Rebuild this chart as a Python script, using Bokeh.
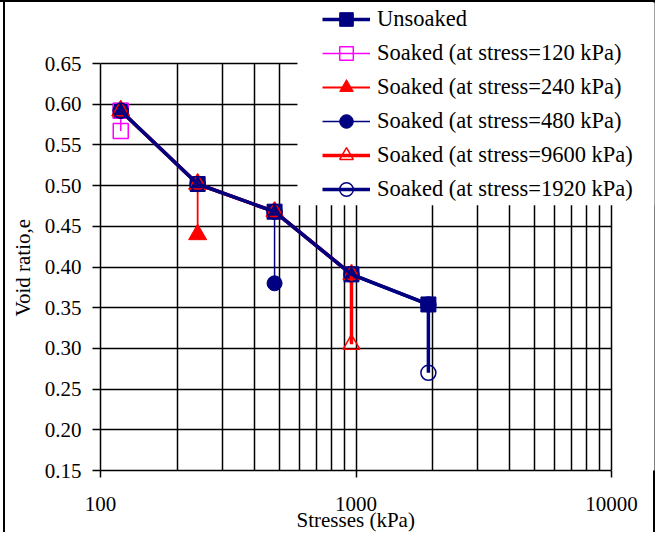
from bokeh.plotting import figure
from bokeh.models import (Range1d, FixedTicker, Legend, LegendItem,
                          BoxAnnotation, Title)
from bokeh.embed import file_html
from bokeh.resources import INLINE

FONT = "Liberation Serif"

# ---- data ----
x_ticks = [100, 1000, 10000]
x_tick_labels = ["100", "1000", "10000"]
x_minor_ticks = [200, 300, 400, 500, 600, 700, 800, 900,
                 2000, 3000, 4000, 5000, 6000, 7000, 8000, 9000]
y_ticks = [0.15, 0.20, 0.25, 0.30, 0.35, 0.40, 0.45, 0.50, 0.55, 0.60, 0.65]
y_tick_labels = ["0.15", "0.20", "0.25", "0.30", "0.35", "0.40", "0.45",
                 "0.50", "0.55", "0.60", "0.65"]

unsoaked_x = [120, 240, 480, 960, 1920]
unsoaked_e = [0.592, 0.502, 0.468, 0.391, 0.354]

soak120_x = [120, 120]
soak120_e = [0.592, 0.567]

soak240_x = [120, 240, 240]
soak240_e = [0.592, 0.502, 0.440]

soak480_x = [120, 240, 480, 480]
soak480_e = [0.592, 0.502, 0.468, 0.380]

soak960_x = [120, 240, 480, 960, 960]
soak960_e = [0.592, 0.502, 0.468, 0.391, 0.305]

soak1920_x = [120, 240, 480, 960, 1920, 1920]
soak1920_e = [0.592, 0.502, 0.468, 0.391, 0.354, 0.270]

labels = ["Unsoaked",
          "Soaked (at stress=120 kPa)",
          "Soaked (at stress=240 kPa)",
          "Soaked (at stress=480 kPa)",
          "Soaked (at stress=9600 kPa)",
          "Soaked (at stress=1920 kPa)"]
x_title = "Stresses (kPa)"
y_title = "Void ratio,e"

NAVY = "#000080"
RED = "#FF0000"
MAGENTA = "#FF00FF"

# plotted region (axes) is 100..10000 x 0.15..0.65; the frame extends a
# little further up/right so the legend can sit over the top-right corner
x_axis_bounds = (x_ticks[0], x_ticks[-1])
y_axis_bounds = (y_ticks[0], y_ticks[-1])

p = figure(width=655, height=532, x_axis_type="log",
           x_range=Range1d(100, 14730), y_range=Range1d(0.15, 0.725),
           output_backend="svg", toolbar_location=None,
           min_border_left=100, min_border_right=1,
           min_border_top=2, min_border_bottom=62)

p.border_fill_alpha = 0
p.background_fill_color = "white"
p.outline_line_color = None
p.styles = {"box-shadow": ("inset 0 2px 0 0 #000, inset -2px 0 0 0 #000, "
                           "inset 3px 0 0 0 #fff, inset 5px 0 0 0 #000")}

# axes
xt = FixedTicker(ticks=x_ticks, minor_ticks=x_minor_ticks)
yt = FixedTicker(ticks=y_ticks)
p.xaxis.ticker = xt
p.yaxis.ticker = yt
p.xgrid.ticker = xt
p.ygrid.ticker = yt
p.xaxis.bounds = x_axis_bounds
p.yaxis.bounds = y_axis_bounds
p.xaxis.major_label_overrides = {t: s for t, s in zip(x_ticks, x_tick_labels)}
p.yaxis.major_label_overrides = {t: s for t, s in zip(y_ticks, y_tick_labels)}

for ax in (p.xaxis[0], p.yaxis[0]):
    ax.axis_line_color = "black"
    ax.axis_line_width = 1.5
    ax.major_tick_line_color = "black"
    ax.major_tick_line_width = 1.5
    ax.major_tick_in = 0
    ax.minor_tick_in = 0
    ax.minor_tick_out = 0
    ax.major_label_text_font = FONT
    ax.major_label_text_font_size = "21px"
    ax.major_label_text_color = "black"

p.xaxis.major_tick_out = 7
p.yaxis.major_tick_out = 8
p.xaxis.major_label_standoff = 19
p.yaxis.major_label_standoff = 11

# axis titles (side titles, placed so they centre on the plotted region)
xt_title = Title(text=x_title, align="left", offset=196, standoff=-15,
                 text_font=FONT, text_font_size="21px",
                 text_font_style="normal", text_color="black")
yt_title = Title(text=y_title, align="left", offset=154, standoff=13,
                 text_font=FONT, text_font_size="21px",
                 text_font_style="normal", text_color="black")
p.add_layout(xt_title, "below")
p.add_layout(yt_title, "left")

for g in (p.xgrid[0], p.ygrid[0]):
    g.grid_line_color = "black"
    g.grid_line_width = 1.5
p.xgrid.minor_grid_line_color = "black"
p.xgrid.minor_grid_line_width = 1.5
p.xgrid.bounds = x_axis_bounds
p.ygrid.bounds = y_axis_bounds
p.xgrid.cross_bounds = y_axis_bounds
p.ygrid.cross_bounds = x_axis_bounds

# series
l0 = p.line(unsoaked_x, unsoaked_e, line_color=NAVY, line_width=3.5)
m0 = p.scatter(unsoaked_x, unsoaked_e, marker="square", size=15,
               fill_color=NAVY, line_color=NAVY)

l1 = p.line(soak120_x, soak120_e, line_color=MAGENTA, line_width=1.5)
m1 = p.scatter(soak120_x, soak120_e, marker="square", size=15,
               fill_color=None, line_color=MAGENTA, line_width=1.5)

l2 = p.line(soak240_x, soak240_e, line_color=RED, line_width=1.8)
m2 = p.scatter(soak240_x, soak240_e, marker="triangle", size=18,
               fill_color=RED, line_color=RED)

l3 = p.line(soak480_x, soak480_e, line_color=NAVY, line_width=1.5)
m3 = p.scatter(soak480_x, soak480_e, marker="circle", size=15,
               fill_color=NAVY, line_color=NAVY)

l4 = p.line(soak960_x, soak960_e, line_color=RED, line_width=3.5)
m4 = p.scatter(soak960_x, soak960_e, marker="triangle", size=17,
               fill_color=None, line_color=RED, line_width=1.5)

l5 = p.line(soak1920_x, soak1920_e, line_color=NAVY, line_width=3.5)
m5 = p.scatter(soak1920_x, soak1920_e, marker="circle", size=15,
               fill_color=None, line_color=NAVY, line_width=1.5)

# white legend backdrop
p.add_layout(BoxAnnotation(left=590, bottom=0.476, fill_color="white",
                           fill_alpha=1, line_color=None))

items = [LegendItem(label=lab, renderers=[ln, mk]) for lab, ln, mk in
         zip(labels, [l0, l1, l2, l3, l4, l5], [m0, m1, m2, m3, m4, m5])]
legend = Legend(items=items, location=(222, 264), padding=0, spacing=0,
                glyph_width=48, glyph_height=34, label_height=34,
                label_standoff=7, label_text_font=FONT,
                label_text_font_size="22.5px", label_text_color="black",
                border_line_alpha=0, background_fill_alpha=0, margin=0)
p.add_layout(legend)

open("out.html", "w").write(file_html(p, INLINE))
